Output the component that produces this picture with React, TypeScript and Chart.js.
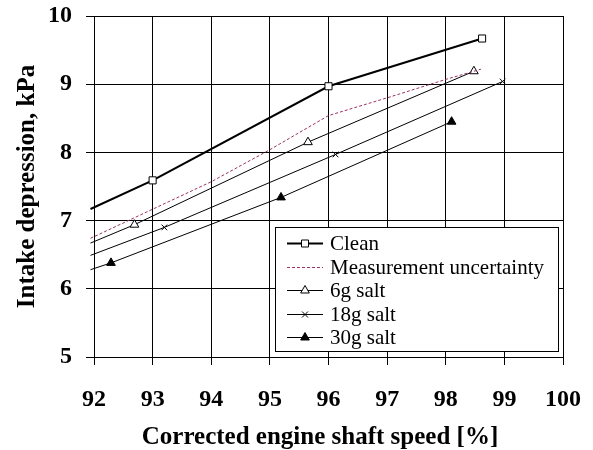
import React, { useEffect, useRef } from "react";
import { Chart, registerables } from "chart.js";

Chart.register(...registerables);

// Corrected engine shaft speed [%] vs intake depression [kPa]
const speedClean = [91.94, 93, 96, 98.62];
const depClean = [7.17, 7.59, 8.97, 9.67];

const speedUnc = [91.94, 94, 95, 96, 97, 98, 98.6];
const depUnc = [6.74, 7.57, 8.04, 8.54, 8.8, 9.07, 9.22];

const speed6 = [91.94, 92.69, 95.65, 98.48];
const dep6 = [6.67, 6.94, 8.15, 9.19];

const speed18 = [91.94, 93.2, 96.12, 98.97];
const dep18 = [6.49, 6.9, 7.97, 9.04];

const speed30 = [91.94, 92.29, 95.19, 98.1];
const dep30 = [6.28, 6.38, 7.34, 8.45];

const seriesNames = ["Clean", "Measurement uncertainty", "6g salt", "18g salt", "30g salt"];
const xTicks = [92, 93, 94, 95, 96, 97, 98, 99, 100];
const yTicks = [5, 6, 7, 8, 9, 10];
const xTitle = "Corrected engine shaft speed [%]";
const yTitle = "Intake depression, kPa";

const SERIF = "'Liberation Serif', 'Times New Roman', serif";
const PLUM = "#993366";

const pts = (xs: number[], ys: number[]) => xs.map((x, i) => ({ x, y: ys[i] }));
// first point of each curve is the extrapolated start, drawn without a marker
const radii = (n: number, r: number) => Array.from({ length: n }, (_, i) => (i === 0 ? 0 : r));

type Marker = "rect" | "triangle" | "crossRot" | "none";

function drawMarker(ctx: CanvasRenderingContext2D, kind: Marker, x: number, y: number, filled: boolean) {
  ctx.save();
  ctx.lineWidth = 1;
  ctx.strokeStyle = "#000";
  ctx.fillStyle = filled ? "#000" : "#fff";
  ctx.setLineDash([]);
  ctx.beginPath();
  if (kind === "rect") {
    ctx.rect(x - 3.5, y - 3.5, 7, 7);
    ctx.fill();
    ctx.stroke();
  } else if (kind === "triangle") {
    const r = 5;
    ctx.moveTo(x, y - r);
    ctx.lineTo(x + r * 0.866, y + r * 0.5);
    ctx.lineTo(x - r * 0.866, y + r * 0.5);
    ctx.closePath();
    ctx.fill();
    ctx.stroke();
  } else if (kind === "crossRot") {
    const s = 3;
    ctx.moveTo(x - s, y - s);
    ctx.lineTo(x + s, y + s);
    ctx.moveTo(x + s, y - s);
    ctx.lineTo(x - s, y + s);
    ctx.stroke();
  }
  ctx.restore();
}

const legendStyles: { marker: Marker; filled: boolean; color: string; width: number; dash: number[] }[] = [
  { marker: "rect", filled: false, color: "#000", width: 2, dash: [] },
  { marker: "none", filled: false, color: PLUM, width: 1, dash: [3, 2] },
  { marker: "triangle", filled: false, color: "#000", width: 1, dash: [] },
  { marker: "crossRot", filled: false, color: "#000", width: 1, dash: [] },
  { marker: "triangle", filled: true, color: "#000", width: 1, dash: [] },
];

// Boxed legend in the lower-right corner of the plot area, plus the x-axis title
const boxLegend = {
  id: "boxLegend",
  afterDraw(chart: any) {
    const { ctx, chartArea } = chart;
    const w = 283;
    const h = 124;
    const right = chartArea.right - 5;
    const bottom = chartArea.bottom - 6;
    const left = right - w;
    const top = bottom - h;
    ctx.save();
    ctx.fillStyle = "#fff";
    ctx.fillRect(left, top, w, h);
    ctx.strokeStyle = "#000";
    ctx.lineWidth = 1;
    ctx.strokeRect(Math.round(left) + 0.5, Math.round(top) + 0.5, w, h);
    ctx.font = `21px ${SERIF}`;
    ctx.textBaseline = "middle";
    ctx.textAlign = "left";
    seriesNames.forEach((name, i) => {
      const st = legendStyles[i];
      const y = Math.round(top + 16 + i * 23.6) + 0.5;
      ctx.save();
      ctx.beginPath();
      ctx.strokeStyle = st.color;
      ctx.lineWidth = st.width;
      ctx.setLineDash(st.dash);
      ctx.moveTo(left + 12, y);
      ctx.lineTo(left + 48, y);
      ctx.stroke();
      ctx.restore();
      if (st.marker !== "none") drawMarker(ctx, st.marker, left + 30, y, st.filled);
      ctx.fillStyle = "#000";
      ctx.fillText(name, left + 55, y + 1);
    });

    // x-axis title
    ctx.font = `bold 25px ${SERIF}`;
    ctx.textAlign = "center";
    ctx.textBaseline = "middle";
    ctx.fillText(xTitle, chartArea.left + 226, chart.height - 12);
    ctx.restore();
  },
};

export default function App() {
  const canvasRef = useRef<HTMLCanvasElement | null>(null);

  useEffect(() => {
    document.body.style.margin = "0";
    const canvas = canvasRef.current;
    if (!canvas) return;

    const tickFont = { family: SERIF, size: 24, weight: "bold" as const };
    const titleFont = { family: SERIF, size: 25, weight: "bold" as const };
    const noPad = (s: any) => {
      s.paddingTop = 0;
      s.paddingBottom = 0;
      s.paddingLeft = 0;
      s.paddingRight = 0;
    };

    const chart = new Chart(canvas, {
      type: "scatter",
      data: {
        datasets: [
          {
            label: seriesNames[0],
            data: pts(speedClean, depClean),
            showLine: true,
            borderColor: "#000",
            borderWidth: 2,
            pointStyle: "rect",
            pointRadius: radii(speedClean.length, 5),
            pointBackgroundColor: "#fff",
            pointBorderColor: "#000",
            pointBorderWidth: 1,
            clip: false,
          },
          {
            label: seriesNames[1],
            data: pts(speedUnc, depUnc),
            showLine: true,
            borderColor: PLUM,
            borderWidth: 1,
            borderDash: [3, 2],
            pointRadius: 0,
            clip: false,
          },
          {
            label: seriesNames[2],
            data: pts(speed6, dep6),
            showLine: true,
            borderColor: "#000",
            borderWidth: 1,
            pointStyle: "triangle",
            pointRadius: radii(speed6.length, 5),
            pointBackgroundColor: "#fff",
            pointBorderColor: "#000",
            pointBorderWidth: 1,
            clip: false,
          },
          {
            label: seriesNames[3],
            data: pts(speed18, dep18),
            showLine: true,
            borderColor: "#000",
            borderWidth: 1,
            pointStyle: "crossRot",
            pointRadius: radii(speed18.length, 4),
            pointBorderColor: "#000",
            pointBorderWidth: 1,
            clip: false,
          },
          {
            label: seriesNames[4],
            data: pts(speed30, dep30),
            showLine: true,
            borderColor: "#000",
            borderWidth: 1,
            pointStyle: "triangle",
            pointRadius: radii(speed30.length, 5),
            pointBackgroundColor: "#000",
            pointBorderColor: "#000",
            pointBorderWidth: 1,
            clip: false,
          },
        ],
      },
      options: {
        animation: false,
        responsive: false,
        devicePixelRatio: 1,
        layout: { padding: { top: 16, right: 30, left: 0, bottom: 0 } },
        plugins: { legend: { display: false }, tooltip: { enabled: false } },
        elements: { line: { tension: 0 } },
        scales: {
          x: {
            type: "linear",
            min: 92,
            max: 100,
            afterBuildTicks: (s: any) => {
              s.ticks = xTicks.map((v) => ({ value: v }));
            },
            afterFit: (s: any) => {
              s.height = 93;
              noPad(s);
            },
            grid: { color: "#000", lineWidth: 1, tickLength: 8 },
            border: { color: "#000", width: 1 },
            ticks: { font: tickFont, color: "#000", padding: 20, maxRotation: 0, autoSkip: false },
          },
          y: {
            type: "linear",
            min: 5,
            max: 10,
            afterBuildTicks: (s: any) => {
              s.ticks = yTicks.map((v) => ({ value: v }));
            },
            afterFit: (s: any) => {
              s.width = 94;
              noPad(s);
            },
            grid: { color: "#000", lineWidth: 1, tickLength: 8 },
            border: { color: "#000", width: 1 },
            ticks: { font: tickFont, color: "#000", padding: 14 },
            title: {
              display: true,
              text: yTitle,
              font: titleFont,
              color: "#000",
              padding: { top: 13, bottom: 0 },
            },
          },
        },
      },
      plugins: [boxLegend],
    });

    return () => chart.destroy();
  }, []);

  return (
    <div style={{ width: 593, height: 450, background: "#fff" }}>
      <canvas ref={canvasRef} width={593} height={450} />
    </div>
  );
}
